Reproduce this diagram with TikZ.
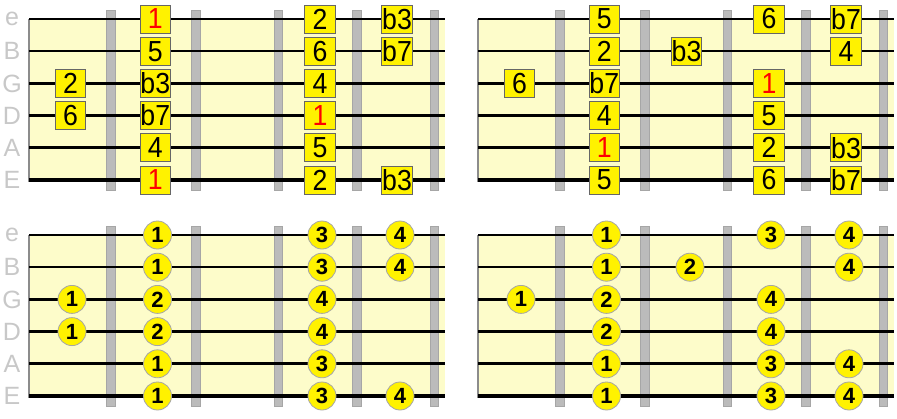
\documentclass[tikz,border=0pt]{standalone}
\usepackage{fontspec}
\setmainfont{Liberation Sans}
\newfontfamily\notefont[FakeStretch=0.92]{Liberation Sans}
\definecolor{boardyellow}{RGB}{253,252,202}
\definecolor{fretgray}{RGB}{187,187,187}
\definecolor{labelgray}{RGB}{200,200,200}
\begin{document}
\begin{tikzpicture}[x=1pt,y=-1pt,
    fret/.style={fill=fretgray,draw=black!35,line width=0.8},
    gtrstring/.style={draw=black},
    strlabel/.style={text=labelgray,font=\fontsize{25}{25}\selectfont,inner sep=0},
    note/.style={rectangle,fill=yellow,draw=black!60,line width=0.8,
      minimum width=30.5,minimum height=28,inner sep=0,
      font=\notefont\fontsize{29}{29}\selectfont},
    finger/.style={circle,fill=yellow,draw=black!35,line width=0.8,
      minimum size=28,inner sep=0,font=\fontsize{22}{22}\selectfont\bfseries}]
  \useasboundingbox (0,0) rectangle (897,418);
  % the four boards
  \foreach \dx/\dy in {0/0,449/0,0/216,449/216} {
    \begin{scope}[shift={(\dx,\dy)}]
      \fill[boardyellow] (29,19) rectangle (445,182);
      \draw[black!45,line width=1.5] (29,19) -- (29,182);
      \foreach \fx in {110.7,195.7,278.3,356.7,434.3}
        \draw[fret] (\fx-4.3,10) rectangle (\fx+4.3,190);
      \foreach \sy/\sw in {19/1.4,51.2/1.8,83.4/2.2,115.6/2.6,147.8/3.0,180/4.0}
        \draw[gtrstring,line width=\sw] (29,\sy) -- (445,\sy);
    \end{scope}
  }
  % string names
  \draw
    (12,19) node[strlabel] (ne){e}
    (12,51.2) node[strlabel] (nB){B}
    (12,83.4) node[strlabel] (nG){G}
    (12,115.6) node[strlabel] (nD){D}
    (12,147.8) node[strlabel] (nA){A}
    (12,180) node[strlabel] (nE){E}
    (12,235) node[strlabel] (me){e}
    (12,267.2) node[strlabel] (mB){B}
    (12,299.4) node[strlabel] (mG){G}
    (12,331.6) node[strlabel] (mD){D}
    (12,363.8) node[strlabel] (mA){A}
    (12,396) node[strlabel] (mE){E};
  % top left: intervals
  \node[note,text=red] (ae1) at (155.3,19) {1};
  \node[note] (ae3) at (320,19) {2};
  \node[note] (ae4) at (397,19) {b3};
  \node[note] (aB1) at (155.3,51.2) {5};
  \node[note] (aB3) at (320,51.2) {6};
  \node[note] (aB4) at (397,51.2) {b7};
  \node[note] (aG0) at (70.5,83.4) {2};
  \node[note] (aG1) at (155.3,83.4) {b3};
  \node[note] (aG3) at (320,83.4) {4};
  \node[note] (aD0) at (70.5,115.6) {6};
  \node[note] (aD1) at (155.3,115.6) {b7};
  \node[note,text=red] (aD3) at (320,115.6) {1};
  \node[note] (aA1) at (155.3,147.8) {4};
  \node[note] (aA3) at (320,147.8) {5};
  \node[note,text=red] (aE1) at (155.3,180) {1};
  \node[note] (aE3) at (320,180) {2};
  \node[note] (aE4) at (397,180) {b3};
  % top right: intervals
  \node[note] (be1) at (604.3,19) {5};
  \node[note] (be3) at (769,19) {6};
  \node[note] (be4) at (846,19) {b7};
  \node[note] (bB1) at (604.3,51.2) {2};
  \node[note] (bB2) at (686.5,51.2) {b3};
  \node[note] (bB4) at (846,51.2) {4};
  \node[note] (bG0) at (519.5,83.4) {6};
  \node[note] (bG1) at (604.3,83.4) {b7};
  \node[note,text=red] (bG3) at (769,83.4) {1};
  \node[note] (bD1) at (604.3,115.6) {4};
  \node[note] (bD3) at (769,115.6) {5};
  \node[note,text=red] (bA1) at (604.3,147.8) {1};
  \node[note] (bA3) at (769,147.8) {2};
  \node[note] (bA4) at (846,147.8) {b3};
  \node[note] (bE1) at (604.3,180) {5};
  \node[note] (bE3) at (769,180) {6};
  \node[note] (bE4) at (846,180) {b7};
  % bottom left: fingers
  \node[finger] (ce1) at (157.5,235) {1};
  \node[finger] (ce3) at (322,235) {3};
  \node[finger] (ce4) at (400,235) {4};
  \node[finger] (cB1) at (157.5,267.2) {1};
  \node[finger] (cB3) at (322,267.2) {3};
  \node[finger] (cB4) at (400,267.2) {4};
  \node[finger] (cG0) at (72,299.4) {1};
  \node[finger] (cG1) at (157.5,299.4) {2};
  \node[finger] (cG3) at (322,299.4) {4};
  \node[finger] (cD0) at (72,331.6) {1};
  \node[finger] (cD1) at (157.5,331.6) {2};
  \node[finger] (cD3) at (322,331.6) {4};
  \node[finger] (cA1) at (157.5,363.8) {1};
  \node[finger] (cA3) at (322,363.8) {3};
  \node[finger] (cE1) at (157.5,396) {1};
  \node[finger] (cE3) at (322,396) {3};
  \node[finger] (cE4) at (400,396) {4};
  % bottom right: fingers
  \node[finger] (de1) at (606.5,235) {1};
  \node[finger] (de3) at (771,235) {3};
  \node[finger] (de4) at (849,235) {4};
  \node[finger] (dB1) at (606.5,267.2) {1};
  \node[finger] (dB2) at (690,267.2) {2};
  \node[finger] (dB4) at (849,267.2) {4};
  \node[finger] (dG0) at (521,299.4) {1};
  \node[finger] (dG1) at (606.5,299.4) {2};
  \node[finger] (dG3) at (771,299.4) {4};
  \node[finger] (dD1) at (606.5,331.6) {2};
  \node[finger] (dD3) at (771,331.6) {4};
  \node[finger] (dA1) at (606.5,363.8) {1};
  \node[finger] (dA3) at (771,363.8) {3};
  \node[finger] (dA4) at (849,363.8) {4};
  \node[finger] (dE1) at (606.5,396) {1};
  \node[finger] (dE3) at (771,396) {3};
  \node[finger] (dE4) at (849,396) {4};
\end{tikzpicture}
\end{document}
